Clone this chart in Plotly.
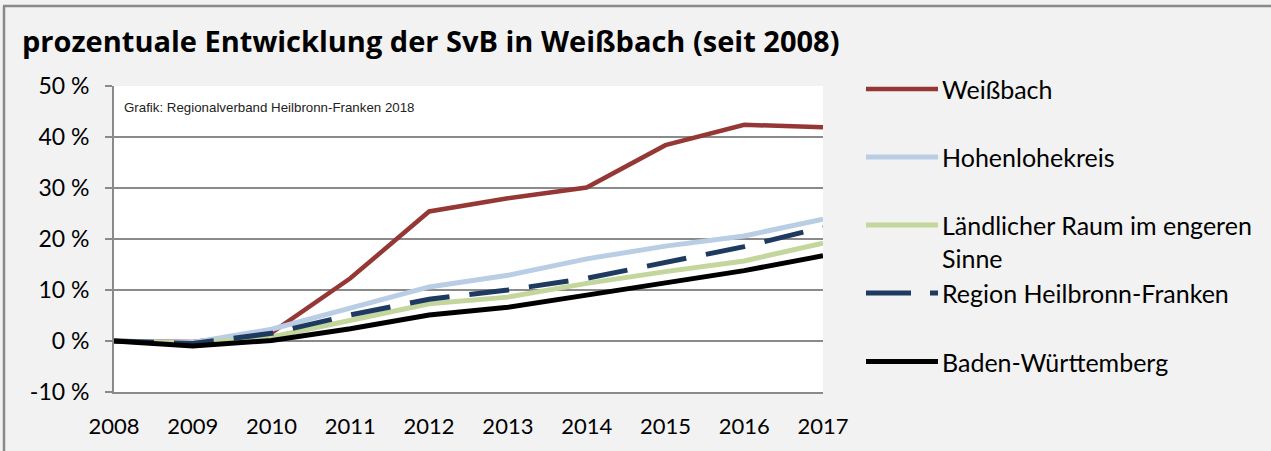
import plotly.graph_objects as go

years = [2008, 2009, 2010, 2011, 2012, 2013, 2014, 2015, 2016, 2017]
year_labels = [str(y) for y in years]

weissbach = [0.0, -0.2, 1.6, 12.3, 25.4, 28.0, 30.1, 38.4, 42.4, 41.9]
hohenlohekreis = [0.0, -0.3, 2.3, 6.4, 10.6, 12.9, 16.1, 18.6, 20.6, 23.9]
laendlicher_raum = [0.0, -0.5, 0.8, 4.1, 7.3, 8.6, 11.3, 13.6, 15.7, 19.2]
region_hf = [0.0, -0.5, 1.5, 5.1, 8.2, 10.0, 12.3, 15.4, 18.5, 22.3]
baden_wuerttemberg = [0.0, -1.0, 0.1, 2.4, 5.1, 6.6, 9.0, 11.3, 13.8, 16.7]

y_ticks = [-10, 0, 10, 20, 30, 40, 50]
y_ticktext = [f"{v} %" for v in y_ticks]

series = [
    ("Weißbach", weissbach, "#953735", 4.5, "solid"),
    ("Hohenlohekreis", hohenlohekreis, "#b9cde5", 5, "solid"),
    ("Ländlicher Raum im engeren<br>Sinne", laendlicher_raum, "#c3d69b", 5, "solid"),
    ("Region Heilbronn-Franken", region_hf, "#1f3a60", 5, "40px,20px"),
    ("Baden-Württemberg", baden_wuerttemberg, "#000000", 5, "solid"),
]

W, H = 1271, 451
L, R, T, B = 114, 823, 86, 392
GRID = "#8a8a8a"
FONT = "Lato"


def px(x):
    return (x - L) / (R - L)


def py(y):
    return (B - y) / (B - T)


fig = go.Figure()
for name, vals, color, width, dash in series:
    fig.add_trace(go.Scatter(
        x=years, y=vals, mode="lines", name=name.replace("<br>", " "),
        line=dict(color=color, width=width, dash=dash),
        showlegend=False, hoverinfo="x+y+name",
    ))

shapes = []
annotations = []

# manual legend
legend_rows = [89, 157, 225, 293, 361.5]
for (name, vals, color, width, dash), yy in zip(series, legend_rows):
    shapes.append(dict(
        type="line", xref="paper", yref="paper",
        x0=px(866), x1=px(938), y0=py(yy), y1=py(yy),
        line=dict(color=color, width=width, dash=("45px,19px" if dash != "solid" else "solid")),
    ))
    annotations.append(dict(
        xref="paper", yref="paper", x=px(940), y=py(yy + (16 if "<br>" in name else 0)),
        xanchor="left", yanchor="middle", align="left", showarrow=False,
        text=name, font=dict(family=FONT, size=25, color="#000000"),
    ))

# outer frame (top and left)
shapes.append(dict(type="line", xref="paper", yref="paper",
                   x0=px(3), x1=px(1275), y0=py(6), y1=py(6),
                   line=dict(color="#898989", width=2.5)))
shapes.append(dict(type="line", xref="paper", yref="paper",
                   x0=px(4), x1=px(4), y0=py(6), y1=py(455),
                   line=dict(color="#898989", width=2.5)))

annotations.append(dict(
    xref="paper", yref="paper", x=px(122), y=py(107),
    xanchor="left", yanchor="middle", showarrow=False,
    text="Grafik: Regionalverband Heilbronn-Franken 2018",
    font=dict(family="Liberation Sans", size=13.3, color="#222222"),
))

fig.update_layout(
    width=W, height=H,
    margin=dict(l=L, r=W - R, t=T, b=H - B, pad=0),
    paper_bgcolor="#f2f2f2",
    plot_bgcolor="#ffffff",
    title=dict(
        text="<b>prozentuale Entwicklung der SvB in Weißbach (seit 2008)</b>",
        xref="container", yref="container", x=22 / W, y=1 - 42 / H,
        xanchor="left", yanchor="middle",
        font=dict(family="Open Sans", size=29, color="#000000"),
    ),
    xaxis=dict(
        range=[2008, 2017], tickvals=years, ticktext=year_labels,
        showgrid=False, zeroline=False, ticks="",
        showline=True, linecolor=GRID, linewidth=1.5,
        tickfont=dict(family=FONT, size=22, color="#000000"),
        ticklabelstandoff=14,
    ),
    xaxis2=dict(
        range=[2008, 2017], tickvals=years, overlaying="x", matches="x",
        anchor="free", position=1 / 6, side="bottom",
        showgrid=False, zeroline=False, showline=False,
        ticks="outside", ticklen=7, tickwidth=1.5, tickcolor=GRID,
        showticklabels=False,
    ),
    yaxis=dict(
        range=[-10, 50], tickvals=y_ticks, ticktext=y_ticktext,
        showgrid=True, gridcolor=GRID, gridwidth=1.5, zeroline=False,
        showline=True, linecolor=GRID, linewidth=2,
        ticks="outside", ticklen=7, tickwidth=1.5, tickcolor=GRID,
        tickfont=dict(family=FONT, size=23, color="#000000"),
        ticklabelstandoff=11,
    ),
    shapes=shapes,
    annotations=annotations,
)

fig.write_html(
    "out.html",
    config={"displayModeBar": False},
    post_script="document.body.style.margin='0';document.body.style.overflow='hidden';",
)
